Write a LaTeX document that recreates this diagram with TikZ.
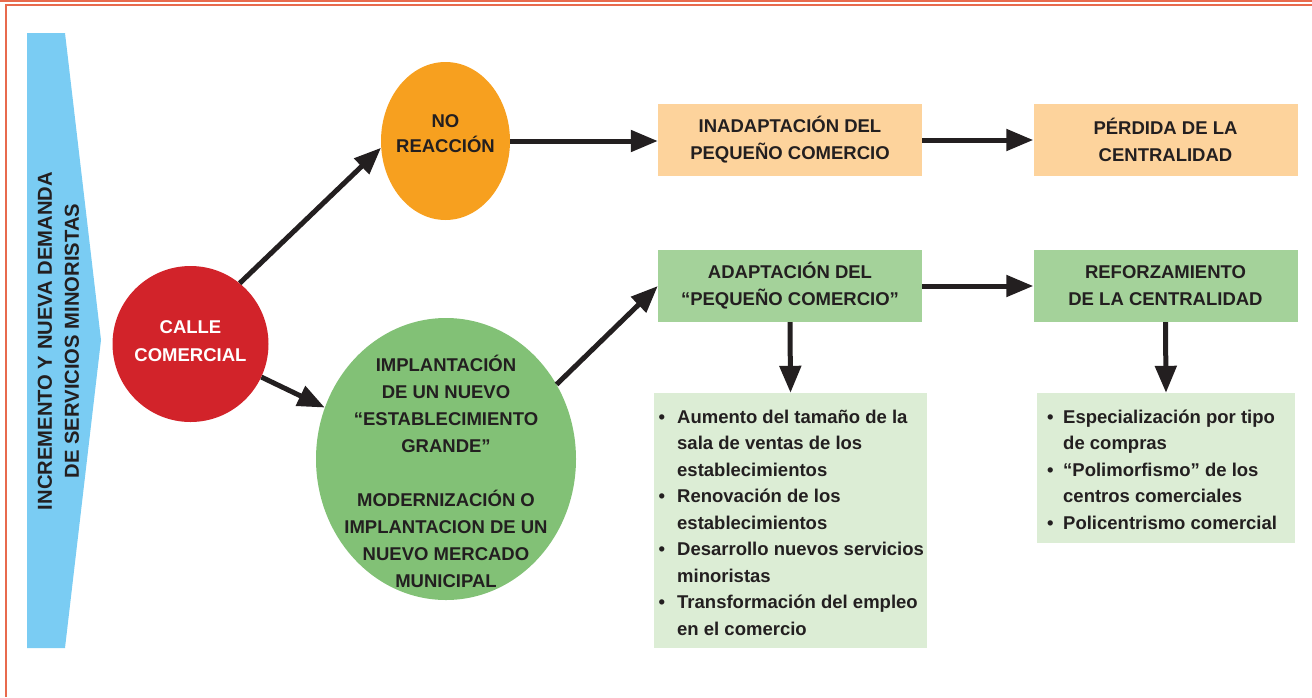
\documentclass[tikz,border=0pt]{standalone}
\usepackage{fontspec}
\setmainfont{Liberation Sans}
\usetikzlibrary{arrows.meta,shapes.geometric}
\definecolor{frame}{HTML}{E86A4D}
\definecolor{ink}{HTML}{231F20}
\definecolor{bluearr}{HTML}{7ACCF3}
\definecolor{redc}{HTML}{D2232A}
\definecolor{orangec}{HTML}{F7A01F}
\definecolor{peach}{HTML}{FDD39C}
\definecolor{greenell}{HTML}{82C176}
\definecolor{gbox}{HTML}{A4D29A}
\definecolor{glight}{HTML}{DCEDD5}
\newcommand\bla{\makebox[18.5pt][l]{•}}
\newcommand\inda{\hspace*{18.5pt}}
\newcommand\blb{\makebox[16pt][l]{•}}
\newcommand\indb{\hspace*{16pt}}
\begin{document}
\begin{tikzpicture}[x=1pt,y=-1pt,
  txt/.style={font=\bfseries\fontsize{18.5}{27}\selectfont, text=ink, align=center, inner sep=0pt},
  listtxt/.style={font=\bfseries\fontsize{18.5}{26.5}\selectfont, text=ink, align=left, inner sep=0pt},
  arr/.style={line width=5pt, draw=ink, -{Triangle[length=27pt,width=21pt]}},
  boxn/.style={txt, minimum width=264pt, minimum height=72pt},
  shapen/.style={inner sep=0pt, draw=none}
]
\useasboundingbox (0,0) rectangle (1312,697);
% frame
\fill[frame] (0,0) rectangle (1312,2);
\fill[frame] (5,3.5) rectangle (1312,5.5);
\fill[frame] (5,3.5) rectangle (7.2,697);
% blue arrow
\fill[bluearr] (27,33) -- (65,33) -- (101,340) -- (65,648) -- (27,648) -- cycle;
\node[txt, rotate=90, font=\bfseries\fontsize{20.2}{27}\selectfont] (blt) at (58.5,341) {INCREMENTO Y NUEVA DEMANDA\\DE SERVICIOS MINORISTAS};
% calle comercial
\node[shapen, circle, fill=redc, minimum size=156pt] (calle) at (190.5,344) {};
\node[txt, text=white, font=\bfseries\fontsize{18.5}{28}\selectfont] (callet) at (190.5,341) {CALLE\\COMERCIAL};
% no reaccion
\node[shapen, ellipse, fill=orangec, minimum width=129pt, minimum height=158pt] (nr) at (445.5,141) {};
\node[txt, font=\bfseries\fontsize{18.5}{25}\selectfont] (nrt) at (445.5,133.5) {NO\\REACCIÓN};
% green ellipse
\node[shapen, ellipse, fill=greenell, minimum width=260pt, minimum height=282pt] (ge) at (446,459) {};
\node[txt] (get) at (446,471.5) {IMPLANTACIÓN\\DE UN NUEVO\\“ESTABLECIMIENTO\\GRANDE”\\[27pt]MODERNIZACIÓN O\\IMPLANTACION DE UN\\NUEVO MERCADO\\MUNICIPAL};
% boxes
\node[boxn, fill=peach] (ina) at (790,140) {INADAPTACIÓN DEL\\PEQUEÑO COMERCIO};
\node[boxn, fill=peach] (per) at (1165.5,140) {PÉRDIDA DE LA\\CENTRALIDAD};
\node[boxn, fill=gbox] (ad) at (790,286) {ADAPTACIÓN DEL\\“PEQUEÑO COMERCIO”};
\node[boxn, fill=gbox] (ref) at (1165.5,286) {REFORZAMIENTO\\DE LA CENTRALIDAD};
% bullet boxes
\node[shapen, fill=glight, minimum width=273pt, minimum height=255pt] (b1) at (790.5,520.5) {};
\node[listtxt, anchor=north west] (b1t) at (658.5,409.5) {\bla Aumento del tamaño de la\\\inda sala de ventas de los\\\inda establecimientos\\\bla Renovación de los\\\inda establecimientos\\\bla Desarrollo nuevos servicios\\\inda minoristas\\\bla Transformación del empleo\\\inda en el comercio};
\node[shapen, fill=glight, minimum width=258pt, minimum height=150pt] (b2) at (1166,468) {};
\node[listtxt, anchor=north west] (b2t) at (1047,409.5) {\blb Especialización por tipo\\\indb de compras\\\blb “Polimorfismo” de los\\\indb centros comerciales\\\blb Policentrismo comercial};
% connectors
\draw[arr] (calle.51) -- (nr.186);
\draw[arr] (calle.-25) -- (ge.157);
\draw[arr] (nr.east) -- (nr.east -| ina.west);
\draw[arr] (ina.east) -- (per.west);
\draw[arr] (ge.34) -- (ad.west);
\draw[arr] (ad.east) -- (ref.west);
\draw[arr] (ad.south) -- (b1.north);
\draw[arr] (ref.south) -- (b2.north);
\end{tikzpicture}
\end{document}
